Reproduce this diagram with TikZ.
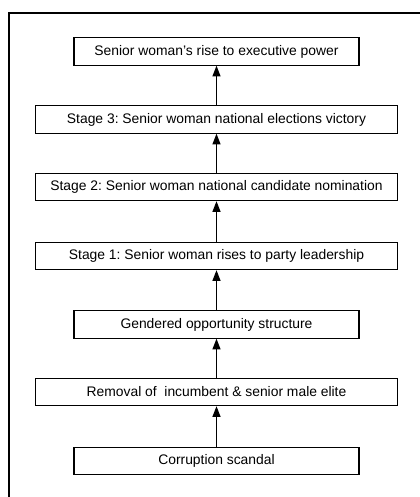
\documentclass[tikz,border=0pt]{standalone}
\usepackage{fontspec}
\setmainfont{Liberation Sans}
\usetikzlibrary{arrows.meta}
\frenchspacing
\begin{document}
\begin{tikzpicture}[x=0.75pt,y=-0.75pt,
  box/.style={draw=black, line width=0.8pt, minimum height=20.5pt, inner sep=0pt, font=\fontsize{10.4pt}{12pt}\selectfont},
  narrow/.style={box, minimum width=213.75pt},
  wide/.style={box, minimum width=271.5pt},
  link/.style={line width=0.8pt, -{Triangle[width=6pt,length=8pt]}}]
\useasboundingbox (0,0) rectangle (420,497);
\begin{scope}
\clip (0,0) rectangle (420,497);
\draw[line width=1.2pt] (9,520) -- (9,13) -- (440,13);
\end{scope}
\node[narrow] (n1) at (216.5,51.5) {Senior woman’s rise to executive power};
\node[wide]   (n2) at (216.5,119.5) {Stage 3: Senior woman national elections victory};
\node[wide]   (n3) at (216.5,187) {Stage 2: Senior woman national candidate nomination};
\node[wide]   (n4) at (216.5,256) {Stage 1: Senior woman rises to party leadership};
\node[narrow] (n5) at (216.5,324.5) {Gendered opportunity structure};
\node[wide]   (n6) at (216.5,392) {Removal of\ \ incumbent \& senior male elite};
\node[narrow] (n7) at (216.5,461) {Corruption scandal};
\draw[link] (n2.north) -- (n1.south);
\draw[link] (n3.north) -- (n2.south);
\draw[link] (n4.north) -- (n3.south);
\draw[link] (n5.north) -- (n4.south);
\draw[link] (n6.north) -- (n5.south);
\draw[link] (n7.north) -- (n6.south);
\end{tikzpicture}
\end{document}
